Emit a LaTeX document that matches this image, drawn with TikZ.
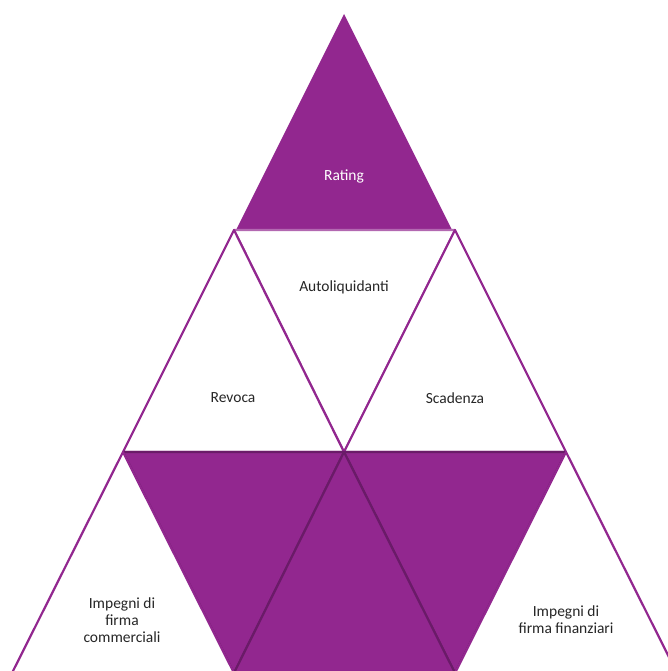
\documentclass[tikz,border=0pt]{standalone}
\usepackage{fontspec}
\setmainfont{Carlito}
\definecolor{plum}{HTML}{92278F}
\definecolor{darkplum}{HTML}{6A1B68}
\definecolor{inktext}{HTML}{262626}

\begin{document}
\begin{tikzpicture}
				[x=1pt, y=-1pt,
				solid tri/.style = {fill=plum, draw=darkplum,
				line width=2.2pt, line join=round},
				open tri/.style = {fill=white, draw=plum,
				line width=2.2pt, line join=round},
				word/.style = {font=\fontsize{15.5}{17.3}\selectfont,
				text=inktext, align=center}]
				\useasboundingbox (0,0) rectangle (668,671);
				\clip (0,0) rectangle (668,671);
				% corners of the triangles
				\coordinate (apex) at (344,14);
				\coordinate (b1) at (236,230);
				\coordinate (b2) at (452,230);
				\coordinate (p1) at (234,230);
				\coordinate (p2) at (455,230);
				\coordinate (c1) at (123,452);
				\coordinate (c2) at (344,452);
				\coordinate (c3) at (566,452);
				\coordinate (d0) at (12,673);
				\coordinate (d1) at (234,673);
				\coordinate (d2) at (455,673);
				\coordinate (d3) at (677,673);
				% top
				\fill[plum] (apex) -- (b1) -- (b2) -- cycle;
				% middle row
				\draw[open tri, draw=plum!70] (p1) -- (p2) -- (c2) -- cycle;
				\draw[open tri] (p1) -- (c1) -- (c2) -- cycle;
				\draw[open tri] (p2) -- (c2) -- (c3) -- cycle;
				% bottom row
				\draw[solid tri] (c1) -- (c2) -- (d1) -- cycle;
				\draw[solid tri] (c2) -- (c3) -- (d2) -- cycle;
				\draw[solid tri] (c2) -- (d1) -- (d2) -- cycle;
				\draw[open tri] (c1) -- (d0) -- (d1) -- cycle;
				\draw[open tri] (c3) -- (d2) -- (d3) -- cycle;
				% texts
				\node[word, text=white] (rating) at (344,176) {Rating};
				\node[word] (autoliq) at (344,287) {Autoliquidanti};
				\node[word] (revoca) at (233,398) {Revoca};
				\node[word] (scadenza) at (455,398) {Scadenza};
				\node[word] (commerciali) at (122,620) {Impegni di\\firma\\commerciali};
				\node[word] (finanziari) at (566,620) {Impegni di\\firma finanziari};
			\end{tikzpicture}
\end{document}
